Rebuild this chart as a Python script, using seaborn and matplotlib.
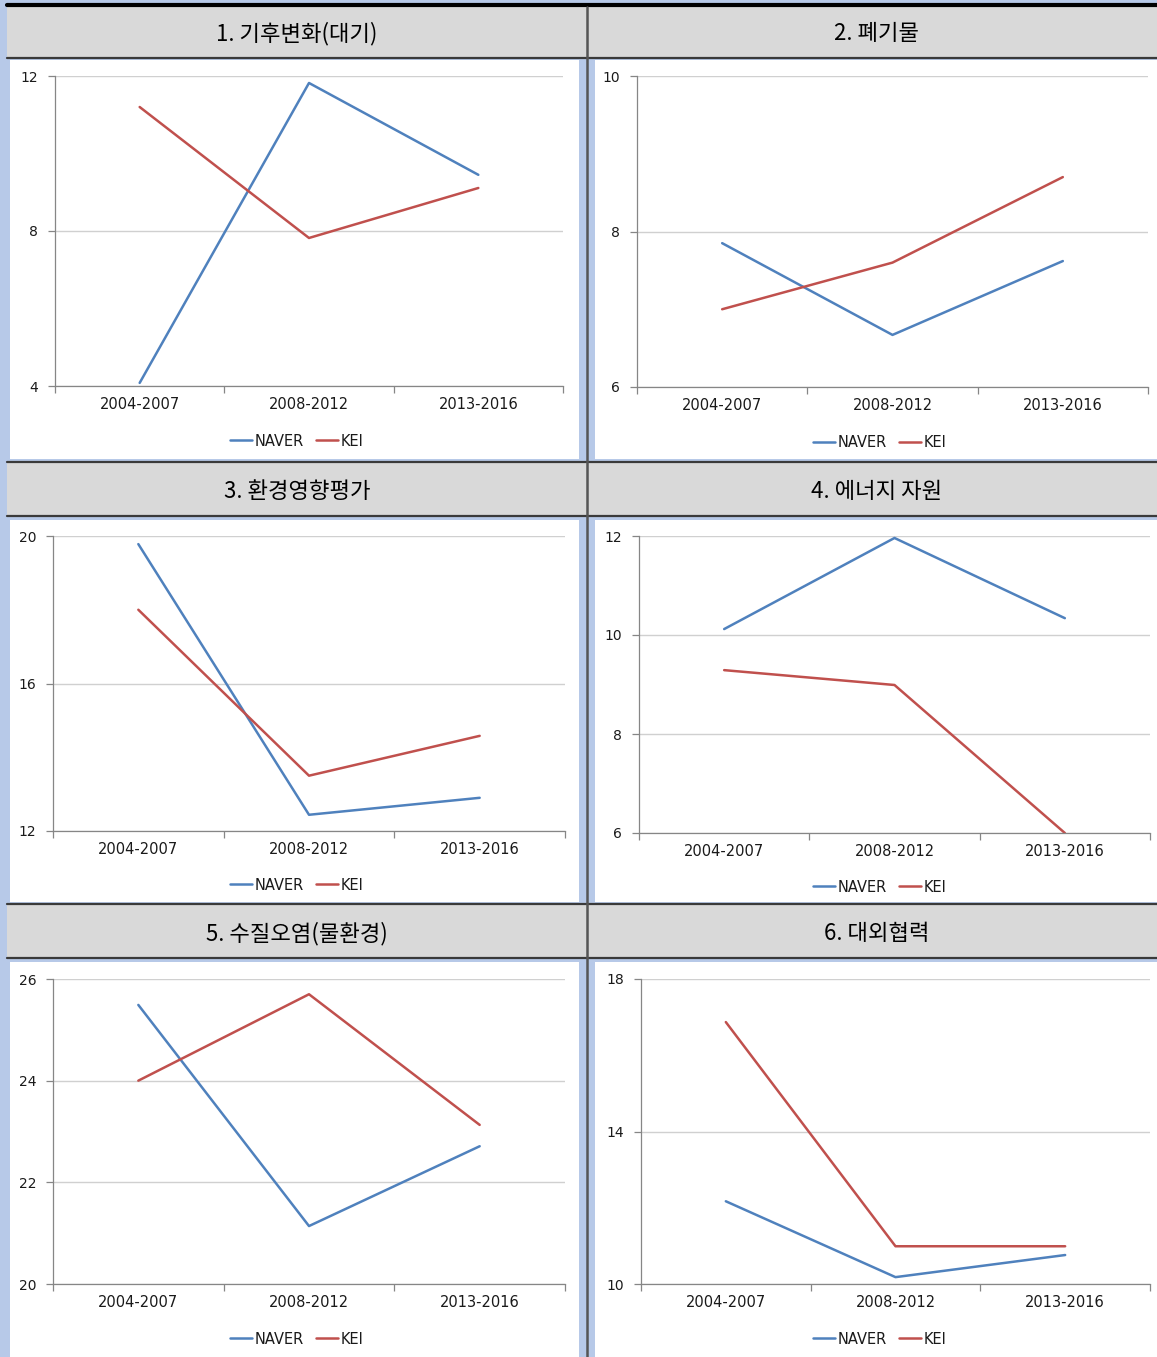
import matplotlib
matplotlib.use("Agg")
import matplotlib.pyplot as plt
from matplotlib.patches import Rectangle
import pandas as pd
import seaborn as sns

sns.set_theme(style="white")
plt.rcParams["font.family"] = ["DejaVu Sans"]

# ---- data -------------------------------------------------------------
periods = ["2004-2007", "2008-2012", "2013-2016"]
series_names = ["NAVER", "KEI"]

titles = [
    "1. 기후변화(대기)",
    "2. 폐기물",
    "3. 환경영향평가",
    "4. 에너지 자원",
    "5. 수질오염(물환경)",
    "6. 대외협력",
]

naver_climate = [4.08, 11.82, 9.45]
kei_climate = [11.2, 7.82, 9.11]

naver_waste = [7.85, 6.67, 7.62]
kei_waste = [7.0, 7.6, 8.7]

naver_eia = [19.78, 12.44, 12.9]
kei_eia = [18.0, 13.5, 14.58]

naver_energy = [10.12, 11.96, 10.34]
kei_energy = [9.29, 8.99, 6.0]

naver_water = [25.49, 21.14, 22.71]
kei_water = [24.0, 25.7, 23.13]

naver_coop = [12.17, 10.18, 10.76]
kei_coop = [16.87, 10.99, 10.99]

panel_values = [
    (naver_climate, kei_climate),
    (naver_waste, kei_waste),
    (naver_eia, kei_eia),
    (naver_energy, kei_energy),
    (naver_water, kei_water),
    (naver_coop, kei_coop),
]

y_ranges = [(4, 12, 4), (6, 10, 2), (12, 20, 4), (6, 12, 2), (20, 26, 2), (10, 18, 4)]

# ---- layout (pixel geometry) -----------------------------------------
W, H = 1157, 1357
DPI = 100
fig = plt.figure(figsize=(W / DPI, H / DPI), dpi=DPI)
fig.patch.set_facecolor("#b7c9e8")


def frect(x0, y0, x1, y1, **kw):
    fig.patches.append(Rectangle((x0 / W, 1 - y1 / H), (x1 - x0) / W, (y1 - y0) / H,
                                 transform=fig.transFigure, figure=fig, **kw))


def fline(x0, y0, x1, y1, **kw):
    fig.add_artist(plt.Line2D([x0 / W, x1 / W], [1 - y0 / H, 1 - y1 / H],
                              transform=fig.transFigure, **kw))


# header bars and white chart panels
header_rows = [(7, 58), (463, 516), (905, 958)]
panel_rows = [(60, 459), (520, 902), (962, 1357)]
panel_cols = [(10, 579), (595, 1157)]

for (hy0, hy1) in header_rows:
    frect(7, hy0, 1157, hy1, facecolor="#d9d9d9", edgecolor="none", zorder=-5)
for (py0, py1) in panel_rows:
    for (px0, px1) in panel_cols:
        frect(px0, py0, px1, py1, facecolor="white", edgecolor="none", zorder=-5)

# table rules
fline(7, 5, 1157, 5, color="black", lw=3, zorder=-4)
for (hy0, hy1) in header_rows:
    if hy0 > 10:
        fline(7, hy0 - 1, 1157, hy0 - 1, color="#3a3a3a", lw=1.6, zorder=-4)
    fline(7, hy1, 1157, hy1, color="#3a3a3a", lw=1.6, zorder=-4)
fline(587, 7, 587, 1357, color="#555555", lw=1.8, zorder=-4)

# header titles
header_centers = [(297, 34), (877, 34), (297, 492), (877, 492), (297, 934), (877, 934)]
for (cx, cy), t in zip(header_centers, titles):
    fig.text(cx / W, 1 - cy / H, t, ha="center", va="center", fontsize=16,
             family=["Noto Sans CJK KR", "DejaVu Sans"], color="black")

# plot areas: x0, x1, ytop, ybottom
plot_boxes = [
    (55, 563, 76, 386),
    (637, 1148, 76, 387),
    (53, 565, 536, 831),
    (639, 1150, 536, 833),
    (53, 565, 979, 1284),
    (641, 1150, 979, 1284),
]
legend_centers = [(297, 441), (880, 443), (297, 885), (880, 887), (297, 1339), (880, 1339)]

palette = {"NAVER": "#4f81bd", "KEI": "#c0504d"}
axis_grey = "#868686"
text_col = "#1a1a1a"

for i in range(6):
    x0, x1, yt, yb = plot_boxes[i]
    ax = fig.add_axes([x0 / W, 1 - yb / H, (x1 - x0) / W, (yb - yt) / H])
    ax.set_zorder(10)
    ax.set_facecolor("none")
    nv, kv = panel_values[i]
    df = pd.DataFrame({
        "period": periods * 2,
        "value": list(nv) + list(kv),
        "series": ["NAVER"] * 3 + ["KEI"] * 3,
    })
    sns.lineplot(data=df, x="period", y="value", hue="series", palette=palette,
                 hue_order=series_names, sort=False, linewidth=1.8, ax=ax,
                 legend=True)
    lo, hi, step = y_ranges[i]
    ax.set_ylim(lo, hi)
    ax.set_yticks(list(range(lo, hi + 1, step)))
    ax.set_xlim(-0.5, 2.5)
    ax.set_xticks([0, 1, 2])
    ax.set_xticklabels(periods)
    ax.set_xticks([-0.5, 0.5, 1.5, 2.5], minor=True)
    ax.set_xlabel("")
    ax.set_ylabel("")
    ax.grid(axis="y", color="#d0d0d0", linewidth=1.0)
    ax.set_axisbelow(True)
    for s in ["top", "right"]:
        ax.spines[s].set_visible(False)
    for s in ["left", "bottom"]:
        ax.spines[s].set_visible(True)
        ax.spines[s].set_color(axis_grey)
        ax.spines[s].set_linewidth(0.9)
    ax.tick_params(axis="y", which="major", left=True, length=5, width=0.9,
                   color=axis_grey, pad=7, labelsize=10, labelcolor=text_col)
    ax.tick_params(axis="x", which="major", bottom=True, length=0, pad=8,
                   labelsize=10.5, labelcolor=text_col)
    ax.tick_params(axis="x", which="minor", bottom=True, length=5, width=0.9,
                   color=axis_grey)
    handles, labels = ax.get_legend_handles_labels()
    ax.get_legend().remove()
    lcx, lcy = legend_centers[i]
    ax.legend(handles, labels, loc="center", ncol=2, frameon=False,
              bbox_to_anchor=(lcx / W, 1 - lcy / H), bbox_transform=fig.transFigure,
              fontsize=10.5, handlelength=1.5, handletextpad=0.2, columnspacing=0.8,
              labelcolor=text_col)

fig.savefig("out.png", dpi=DPI, facecolor=fig.get_facecolor())
